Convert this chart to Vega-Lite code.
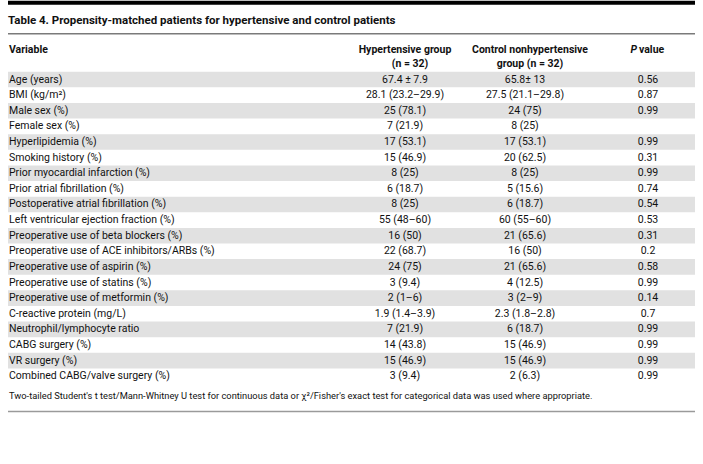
{
  "$schema": "https://vega.github.io/schema/vega-lite/v6.json",
  "width": 703,
  "height": 464,
  "autosize": {"type": "fit", "contains": "padding"},
  "padding": 0,
  "background": "white",
  "config": {"view": {"stroke": null}, "font": "Roboto"},
  "datasets": {
    "table": [
      {"row": 1, "variable": "Age (years)", "hyp": "67.4 ± 7.9", "ctl": "65.8± 13", "p": "0.56"},
      {"row": 2, "variable": "BMI (kg/m²)", "hyp": "28.1 (23.2–29.9)", "ctl": "27.5 (21.1–29.8)", "p": "0.87"},
      {"row": 3, "variable": "Male sex (%)", "hyp": "25 (78.1)", "ctl": "24 (75)", "p": "0.99"},
      {"row": 4, "variable": "Female sex (%)", "hyp": "7 (21.9)", "ctl": "8 (25)", "p": ""},
      {"row": 5, "variable": "Hyperlipidemia (%)", "hyp": "17 (53.1)", "ctl": "17 (53.1)", "p": "0.99"},
      {"row": 6, "variable": "Smoking history (%)", "hyp": "15 (46.9)", "ctl": "20 (62.5)", "p": "0.31"},
      {"row": 7, "variable": "Prior myocardial infarction (%)", "hyp": "8 (25)", "ctl": "8 (25)", "p": "0.99"},
      {"row": 8, "variable": "Prior atrial fibrillation (%)", "hyp": "6 (18.7)", "ctl": "5 (15.6)", "p": "0.74"},
      {"row": 9, "variable": "Postoperative atrial fibrillation (%)", "hyp": "8 (25)", "ctl": "6 (18.7)", "p": "0.54"},
      {"row": 10, "variable": "Left ventricular ejection fraction (%)", "hyp": "55 (48–60)", "ctl": "60 (55–60)", "p": "0.53"},
      {"row": 11, "variable": "Preoperative use of beta blockers (%)", "hyp": "16 (50)", "ctl": "21 (65.6)", "p": "0.31"},
      {"row": 12, "variable": "Preoperative use of ACE inhibitors/ARBs (%)", "hyp": "22 (68.7)", "ctl": "16 (50)", "p": "0.2"},
      {"row": 13, "variable": "Preoperative use of aspirin (%)", "hyp": "24 (75)", "ctl": "21 (65.6)", "p": "0.58"},
      {"row": 14, "variable": "Preoperative use of statins (%)", "hyp": "3 (9.4)", "ctl": "4 (12.5)", "p": "0.99"},
      {"row": 15, "variable": "Preoperative use of metformin (%)", "hyp": "2 (1–6)", "ctl": "3 (2–9)", "p": "0.14"},
      {"row": 16, "variable": "C-reactive protein (mg/L)", "hyp": "1.9 (1.4–3.9)", "ctl": "2.3 (1.8–2.8)", "p": "0.7"},
      {"row": 17, "variable": "Neutrophil/lymphocyte ratio", "hyp": "7 (21.9)", "ctl": "6 (18.7)", "p": "0.99"},
      {"row": 18, "variable": "CABG surgery (%)", "hyp": "14 (43.8)", "ctl": "15 (46.9)", "p": "0.99"},
      {"row": 19, "variable": "VR surgery (%)", "hyp": "15 (46.9)", "ctl": "15 (46.9)", "p": "0.99"},
      {"row": 20, "variable": "Combined CABG/valve surgery (%)", "hyp": "3 (9.4)", "ctl": "2 (6.3)", "p": "0.99"}
    ]
  },
  "data": {"name": "table"},
  "encoding": {
    "y": {"field": "row", "type": "quantitative", "axis": null,
          "scale": {"domain": [-4.03, 25.62], "reverse": true, "nice": false, "zero": false}}
  },
  "layer": [
    {
      "transform": [{"filter": "datum.row % 2 == 1"}],
      "mark": {"type": "rule", "color": "#e1e1e1", "strokeWidth": 15.65, "strokeCap": "butt"},
      "encoding": {}
    },
    {
      "transform": [{"filter": "datum.row == 1"}],
      "mark": {"type": "rule", "color": "#000000", "strokeWidth": 4, "strokeCap": "butt"},
      "encoding": {"y": {"datum": -3.92, "type": "quantitative"}}
    },
    {
      "transform": [{"filter": "datum.row == 1"}],
      "mark": {"type": "rule", "color": "#7a7a7a", "strokeWidth": 1.5, "strokeCap": "butt"},
      "encoding": {"y": {"datum": -1.94, "type": "quantitative"}}
    },
    {
      "transform": [{"filter": "datum.row == 1"}],
      "mark": {"type": "rule", "color": "#9a9a9a", "strokeWidth": 1.5, "strokeCap": "butt"},
      "encoding": {"y": {"datum": 22.25, "type": "quantitative"}}
    },
    {
      "transform": [{"filter": "datum.row == 1"}],
      "mark": {"type": "text", "align": "left", "baseline": "middle", "fontSize": 11.5, "fontWeight": "bold", "color": "#111111", "x": 0},
      "encoding": {"y": {"datum": -2.74, "type": "quantitative"}, "text": {"value": "Table 4. Propensity-matched patients for hypertensive and control patients"}}
    },
    {
      "transform": [{"filter": "datum.row == 1"}],
      "mark": {"type": "text", "align": "left", "baseline": "middle", "fontSize": 10.5, "fontWeight": "bold", "color": "#111111", "x": 1},
      "encoding": {"y": {"datum": -0.88, "type": "quantitative"}, "text": {"value": "Variable"}}
    },
    {
      "transform": [{"filter": "datum.row == 1"}],
      "mark": {"type": "text", "align": "center", "baseline": "middle", "fontSize": 10.5, "fontWeight": "bold", "color": "#111111", "x": 397},
      "encoding": {"y": {"datum": -0.88, "type": "quantitative"}, "text": {"value": "Hypertensive group"}}
    },
    {
      "transform": [{"filter": "datum.row == 1"}],
      "mark": {"type": "text", "align": "center", "baseline": "middle", "fontSize": 10.5, "fontWeight": "bold", "color": "#111111", "x": 402},
      "encoding": {"y": {"datum": 0.03, "type": "quantitative"}, "text": {"value": "(n = 32)"}}
    },
    {
      "transform": [{"filter": "datum.row == 1"}],
      "mark": {"type": "text", "align": "center", "baseline": "middle", "fontSize": 10.5, "fontWeight": "bold", "color": "#111111", "x": 522},
      "encoding": {"y": {"datum": -0.88, "type": "quantitative"}, "text": {"value": "Control nonhypertensive"}}
    },
    {
      "transform": [{"filter": "datum.row == 1"}],
      "mark": {"type": "text", "align": "center", "baseline": "middle", "fontSize": 10.5, "fontWeight": "bold", "color": "#111111", "x": 522},
      "encoding": {"y": {"datum": 0.03, "type": "quantitative"}, "text": {"value": "group (n = 32)"}}
    },
    {
      "transform": [{"filter": "datum.row == 1"}],
      "mark": {"type": "text", "align": "right", "baseline": "middle", "fontSize": 10.5, "fontWeight": "bold", "fontStyle": "italic", "color": "#111111", "x": 629},
      "encoding": {"y": {"datum": -0.88, "type": "quantitative"}, "text": {"value": "P"}}
    },
    {
      "transform": [{"filter": "datum.row == 1"}],
      "mark": {"type": "text", "align": "left", "baseline": "middle", "fontSize": 10.5, "fontWeight": "bold", "color": "#111111", "x": 631},
      "encoding": {"y": {"datum": -0.88, "type": "quantitative"}, "text": {"value": "value"}}
    },
    {
      "mark": {"type": "text", "align": "left", "baseline": "middle", "fontSize": 10.5, "color": "#111111", "x": 1},
      "encoding": {"text": {"field": "variable"}}
    },
    {
      "mark": {"type": "text", "align": "center", "baseline": "middle", "fontSize": 10.5, "color": "#111111", "x": 397},
      "encoding": {"text": {"field": "hyp"}}
    },
    {
      "mark": {"type": "text", "align": "center", "baseline": "middle", "fontSize": 10.5, "color": "#111111", "x": 517},
      "encoding": {"text": {"field": "ctl"}}
    },
    {
      "mark": {"type": "text", "align": "center", "baseline": "middle", "fontSize": 10.5, "color": "#111111", "x": 640},
      "encoding": {"text": {"field": "p"}}
    },
    {
      "transform": [{"filter": "datum.row == 1"}],
      "mark": {"type": "text", "align": "left", "baseline": "middle", "fontSize": 9.3, "color": "#111111", "x": 1},
      "encoding": {"y": {"datum": 21.25, "type": "quantitative"}, "text": {"value": "Two-tailed Student's t test/Mann-Whitney U test for continuous data or χ²/Fisher's exact test for categorical data was used where appropriate."}}
    }
  ]
}
